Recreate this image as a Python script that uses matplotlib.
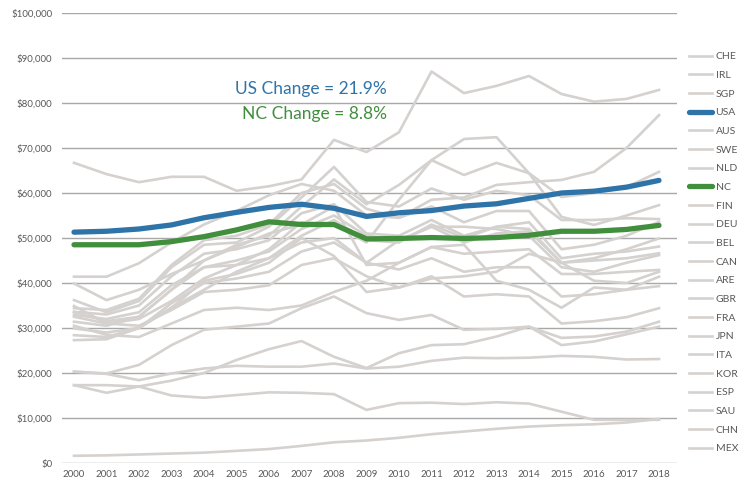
import matplotlib
matplotlib.use("Agg")
import matplotlib.pyplot as plt
from matplotlib.ticker import FuncFormatter

plt.rcParams['font.family'] = ['Lato', 'DejaVu Sans']

years = list(range(2000, 2019))

CHE = [66.7, 64.2, 62.4, 63.6, 63.6, 60.5, 61.5, 63.0, 71.8, 69.1, 73.5, 87.0, 82.2, 83.8, 86.0, 82.0, 80.3, 80.9, 82.9]
IRL = [41.4, 41.4, 44.4, 49.0, 53.0, 56.0, 59.5, 62.0, 60.5, 55.0, 54.5, 58.5, 59.0, 61.8, 62.4, 62.9, 64.7, 70.0, 77.3]
SGP = [34.9, 31.0, 32.0, 36.0, 41.0, 44.0, 47.5, 53.5, 53.0, 49.0, 58.5, 67.3, 64.0, 66.7, 64.4, 59.1, 60.0, 61.3, 64.7]
USA = [51.3, 51.5, 52.0, 52.9, 54.5, 55.7, 56.8, 57.5, 56.6, 54.8, 55.6, 56.1, 57.1, 57.6, 58.8, 60.0, 60.4, 61.3, 62.8]
AUS = [33.5, 31.5, 32.5, 38.5, 45.0, 48.5, 50.5, 57.0, 63.0, 57.5, 61.8, 67.3, 72.0, 72.4, 64.4, 54.7, 52.9, 55.0, 57.3]
SWE = [36.2, 33.5, 36.0, 43.5, 48.5, 49.0, 52.5, 59.0, 65.8, 58.0, 57.0, 61.0, 58.5, 60.5, 59.5, 54.0, 54.0, 54.4, 54.2]
NLD = [34.4, 34.0, 36.5, 44.0, 49.5, 50.5, 53.0, 60.0, 62.0, 56.5, 54.5, 57.0, 53.5, 56.0, 56.0, 47.5, 48.5, 50.5, 53.6]
NC  = [48.5, 48.5, 48.5, 49.2, 50.3, 51.8, 53.6, 53.0, 53.0, 49.8, 49.9, 50.1, 49.9, 50.1, 50.6, 51.5, 51.5, 51.9, 52.8]
FIN = [33.6, 33.0, 35.0, 41.5, 46.5, 47.5, 49.5, 55.5, 57.5, 51.0, 50.5, 54.0, 50.5, 52.5, 52.0, 44.5, 45.5, 47.5, 49.9]
DEU = [32.9, 32.0, 33.5, 39.5, 43.5, 44.0, 45.5, 50.5, 54.0, 49.5, 49.0, 53.0, 50.0, 52.5, 53.5, 45.5, 46.5, 47.0, 48.1]
BEL = [31.4, 30.5, 32.5, 38.5, 43.5, 45.0, 47.0, 52.0, 55.0, 50.5, 49.5, 52.5, 49.0, 51.0, 51.5, 44.5, 45.0, 45.5, 46.6]
CAN = [29.9, 29.0, 30.0, 34.5, 38.5, 42.5, 45.5, 49.0, 50.0, 44.5, 49.5, 52.5, 52.5, 52.0, 50.5, 43.5, 42.5, 44.5, 46.2]
ARE = [39.9, 36.2, 38.5, 42.0, 45.0, 48.0, 51.0, 53.0, 57.0, 44.0, 44.5, 48.0, 46.5, 47.0, 47.5, 42.0, 42.0, 42.5, 42.9]
GBR = [27.3, 27.5, 30.0, 34.5, 40.5, 42.0, 44.5, 50.0, 46.0, 38.0, 39.0, 41.0, 41.5, 42.5, 46.5, 44.5, 40.5, 40.0, 42.5]
FRA = [28.4, 28.0, 30.0, 35.5, 40.0, 41.0, 42.5, 47.0, 49.0, 44.5, 43.0, 45.5, 42.5, 43.5, 43.5, 37.0, 37.5, 38.5, 41.4]
JPN = [30.5, 28.5, 28.0, 31.0, 34.0, 34.5, 34.0, 35.0, 38.0, 40.5, 44.5, 48.0, 48.5, 40.5, 38.5, 34.5, 39.0, 38.5, 39.3]
ITA = [32.5, 31.0, 30.5, 34.0, 38.0, 38.5, 39.5, 44.0, 45.5, 41.5, 39.0, 41.5, 37.0, 37.5, 37.0, 31.0, 31.5, 32.4, 34.4]
KOR = [17.3, 15.6, 17.0, 18.3, 20.0, 22.9, 25.3, 27.1, 23.6, 21.1, 24.4, 26.2, 26.4, 28.1, 30.3, 27.8, 28.1, 29.2, 31.4]
ESP = [20.3, 19.9, 21.8, 26.2, 29.6, 30.3, 31.0, 34.4, 37.0, 33.3, 31.8, 32.9, 29.6, 29.8, 30.3, 26.2, 27.0, 28.6, 30.3]
SAU = [20.3, 19.8, 18.4, 19.9, 21.0, 21.6, 21.4, 21.4, 22.1, 21.0, 21.4, 22.7, 23.4, 23.3, 23.4, 23.8, 23.6, 23.0, 23.1]
CHN = [1.6, 1.7, 1.9, 2.1, 2.3, 2.7, 3.1, 3.8, 4.6, 5.0, 5.6, 6.4, 7.0, 7.6, 8.1, 8.4, 8.6, 9.0, 9.8]
MEX = [17.3, 17.3, 17.0, 15.0, 14.5, 15.1, 15.7, 15.6, 15.3, 11.8, 13.3, 13.4, 13.1, 13.5, 13.2, 11.4, 9.6, 9.6, 9.6]

series_names = ["CHE", "IRL", "SGP", "USA", "AUS", "SWE", "NLD", "NC", "FIN", "DEU", "BEL",
                "CAN", "ARE", "GBR", "FRA", "JPN", "ITA", "KOR", "ESP", "SAU", "CHN", "MEX"]
series_values = [CHE, IRL, SGP, USA, AUS, SWE, NLD, NC, FIN, DEU, BEL,
                 CAN, ARE, GBR, FRA, JPN, ITA, KOR, ESP, SAU, CHN, MEX]

us_label = "US Change = 21.9%"
nc_label = "NC Change = 8.8%"

GRAY = "#d5d1cf"
BLUE = "#2e74a8"
GREEN = "#418f3d"
GRID = "#a8a8a8"
TXT = "#595959"

fig = plt.figure(figsize=(7.53, 4.83), dpi=100)
ax = fig.add_axes([62/753, 1 - 463/483, (677 - 62)/753, (463 - 13)/483])

handles = []
for name, vals in zip(series_names, series_values):
    vals_d = [v * 1000 for v in vals]
    if name == "USA":
        h, = ax.plot(years, vals_d, color=BLUE, lw=3.8, zorder=5, solid_capstyle='round', label=name)
    elif name == "NC":
        h, = ax.plot(years, vals_d, color=GREEN, lw=3.8, zorder=5, solid_capstyle='round', label=name)
    else:
        h, = ax.plot(years, vals_d, color=GRAY, lw=1.9, zorder=3, label=name)
    handles.append(h)

ax.set_xlim(2000 - 12/32.5, 2018 + 18/32.5)
ax.set_ylim(0, 100000)
ax.set_yticks(range(0, 100001, 10000))
ax.yaxis.set_major_formatter(FuncFormatter(lambda v, p: "${:,.0f}".format(v)))
ax.set_xticks(years)
ax.set_xticklabels([str(y) for y in years])
ax.grid(axis='y', color=GRID, lw=1.0, zorder=0)
ax.set_axisbelow(True)
for s in ax.spines.values():
    s.set_visible(False)
ax.tick_params(axis='both', length=0, labelsize=7, labelcolor=TXT)
ax.tick_params(axis='y', pad=7)
ax.tick_params(axis='x', pad=5)

ax.text(2007.3, 83000, us_label, color=BLUE, fontsize=12.5, ha='center', va='center')
ax.text(2007.4, 77600, nc_label, color=GREEN, fontsize=12.5, ha='center', va='center')

leg = fig.legend(handles=handles, labels=series_names, loc='upper left',
                 bbox_to_anchor=(689/753, 1 - 52/483), frameon=False, fontsize=7.5,
                 handlelength=2.2, handletextpad=0.35, labelspacing=0.9,
                 borderaxespad=0, borderpad=0)
for t in leg.get_texts():
    t.set_color(TXT)

fig.savefig("out.png", dpi=100)
